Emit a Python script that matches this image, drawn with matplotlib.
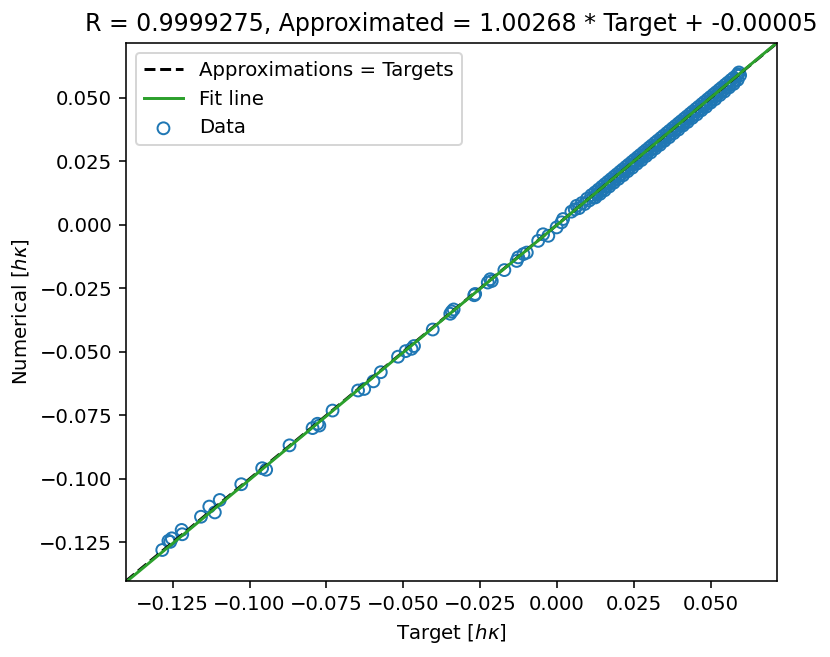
import matplotlib
matplotlib.use("Agg")
import matplotlib.pyplot as plt
import numpy as np

plt.rcParams['font.family'] = ['DejaVu Sans']

# ---- data ----
sparse_target = [-0.1284, -0.1264, -0.1253, -0.1258, -0.1221, -0.1219, -0.1158, -0.1131, -0.1113,
                 -0.1097, -0.1027, -0.0959, -0.0946, -0.0870, -0.0795, -0.0779, -0.0773, -0.0730,
                 -0.0647, -0.0627, -0.0597, -0.0573, -0.0517, -0.0492, -0.0473, -0.0465, -0.0404,
                 -0.0347, -0.0336, -0.0342, -0.0269, -0.0266, -0.0217, -0.0225, -0.0212, -0.0171,
                 -0.0126, -0.0131, -0.0109, -0.0098, -0.0061, -0.0045, -0.0028, -0.0001, 0.0015,
                 0.0020, 0.0047, 0.0064]
sparse_numerical = [-0.1280, -0.1244, -0.1234, -0.1248, -0.1201, -0.1218, -0.1149, -0.1109, -0.1132,
                    -0.1083, -0.1021, -0.0958, -0.0964, -0.0868, -0.0800, -0.0783, -0.0790, -0.0731,
                    -0.0652, -0.0646, -0.0616, -0.0580, -0.0519, -0.0497, -0.0488, -0.0477, -0.0412,
                    -0.0350, -0.0333, -0.0341, -0.0277, -0.0272, -0.0214, -0.0227, -0.0221, -0.0178,
                    -0.0128, -0.0142, -0.0115, -0.0109, -0.0063, -0.0037, -0.0043, -0.0010, 0.0010,
                    0.0023, 0.0052, 0.0075]

dense_target = [0.0058, 0.0072, 0.0081, 0.0090, 0.0098, 0.0105, 0.0112, 0.0118, 0.0124, 0.0130,
                0.0135, 0.0141, 0.0146, 0.0151, 0.0156, 0.0161, 0.0166, 0.0171, 0.0176, 0.0181,
                0.0186, 0.0190, 0.0195, 0.0200, 0.0205, 0.0210, 0.0214, 0.0219, 0.0224, 0.0229,
                0.0233, 0.0238, 0.0243, 0.0248, 0.0252, 0.0257, 0.0262, 0.0267, 0.0271, 0.0276,
                0.0281, 0.0286, 0.0290, 0.0295, 0.0300, 0.0305, 0.0309, 0.0314, 0.0319, 0.0324,
                0.0328, 0.0333, 0.0338, 0.0343, 0.0347, 0.0352, 0.0357, 0.0362, 0.0366, 0.0371,
                0.0376, 0.0381, 0.0385, 0.0390, 0.0395, 0.0400, 0.0404, 0.0409, 0.0414, 0.0419,
                0.0423, 0.0428, 0.0433, 0.0438, 0.0442, 0.0447, 0.0452, 0.0457, 0.0461, 0.0466,
                0.0471, 0.0476, 0.0480, 0.0485, 0.0490, 0.0495, 0.0499, 0.0504, 0.0509, 0.0514,
                0.0518, 0.0523, 0.0528, 0.0533, 0.0537, 0.0542, 0.0547, 0.0552, 0.0556, 0.0561,
                0.0566, 0.0571, 0.0575, 0.0580, 0.0585, 0.0589, 0.0592]
dense_numerical = [0.0061, 0.0066, 0.0086, 0.0082, 0.0103, 0.0096, 0.0117, 0.0108, 0.0128, 0.0121,
                   0.0139, 0.0132, 0.0150, 0.0142, 0.0160, 0.0152, 0.0170, 0.0162, 0.0180, 0.0172,
                   0.0190, 0.0181, 0.0199, 0.0191, 0.0209, 0.0200, 0.0218, 0.0210, 0.0228, 0.0219,
                   0.0237, 0.0229, 0.0247, 0.0238, 0.0256, 0.0248, 0.0266, 0.0257, 0.0275, 0.0266,
                   0.0285, 0.0276, 0.0294, 0.0285, 0.0304, 0.0295, 0.0313, 0.0304, 0.0323, 0.0314,
                   0.0332, 0.0323, 0.0342, 0.0333, 0.0351, 0.0342, 0.0361, 0.0352, 0.0370, 0.0361,
                   0.0380, 0.0371, 0.0389, 0.0380, 0.0399, 0.0390, 0.0408, 0.0399, 0.0418, 0.0409,
                   0.0427, 0.0418, 0.0437, 0.0428, 0.0446, 0.0437, 0.0456, 0.0447, 0.0465, 0.0456,
                   0.0475, 0.0466, 0.0484, 0.0475, 0.0494, 0.0485, 0.0503, 0.0494, 0.0513, 0.0504,
                   0.0522, 0.0513, 0.0532, 0.0523, 0.0541, 0.0532, 0.0551, 0.0542, 0.0560, 0.0551,
                   0.0570, 0.0561, 0.0579, 0.0570, 0.0589, 0.0593, 0.0600]

# lower edge of the dense band
edge_target = [0.0125, 0.0140, 0.0155, 0.0170, 0.0185, 0.0200, 0.0215, 0.0230, 0.0245, 0.0260,
               0.0275, 0.0290, 0.0305, 0.0320, 0.0335, 0.0350, 0.0365, 0.0380, 0.0395, 0.0410,
               0.0425, 0.0440, 0.0455, 0.0470, 0.0485, 0.0500, 0.0515, 0.0530, 0.0545, 0.0560,
               0.0575, 0.0588, 0.0596]
edge_numerical = [0.0108, 0.0122, 0.0136, 0.0151, 0.0166, 0.0181, 0.0195, 0.0211, 0.0225, 0.0241,
                  0.0255, 0.0271, 0.0285, 0.0301, 0.0315, 0.0331, 0.0345, 0.0361, 0.0375, 0.0391,
                  0.0405, 0.0421, 0.0435, 0.0451, 0.0465, 0.0481, 0.0495, 0.0511, 0.0525, 0.0541,
                  0.0555, 0.0571, 0.0589]

fit_slope = 1.00268
fit_intercept = -0.00005
r_value = 0.9999275
axis_limits = [-0.1402, 0.0716]

# ---- figure ----
DPI = 142
fig = plt.figure(figsize=(830 / DPI, 657 / DPI), dpi=DPI)
ax = fig.add_axes([126 / 830, 1 - 581 / 657, (777 - 126) / 830, (581 - 43) / 657])

target = np.array(sparse_target + dense_target + edge_target)
numerical = np.array(sparse_numerical + dense_numerical + edge_numerical)

lims = np.array(axis_limits)
ax.plot(lims, lims, 'k--', label='Approximations = Targets')
ax.plot(lims, fit_slope * lims + fit_intercept, color='tab:green', label='Fit line')
ax.scatter(target, numerical, facecolors='none', edgecolors='tab:blue', label='Data')

ax.set_xlim(lims)
ax.set_ylim(lims)
ax.set_xlabel(r'Target [$h\kappa$]')
ax.set_ylabel(r'Numerical [$h\kappa$]')
ax.set_title('R = %.7f, Approximated = %.5f * Target + %.5f' % (r_value, fit_slope, fit_intercept))
ax.legend(loc='upper left')

fig.savefig('out.png', dpi=DPI)
